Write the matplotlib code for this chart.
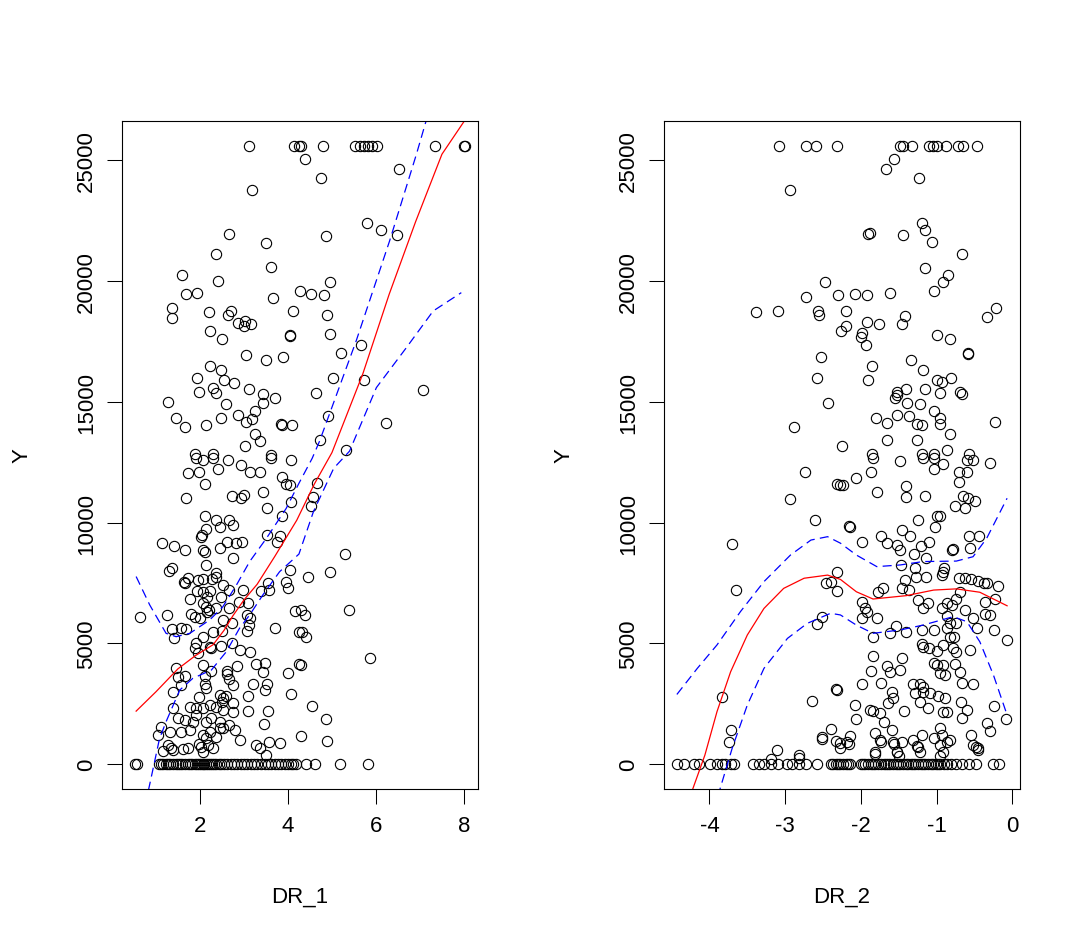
import matplotlib
matplotlib.use("Agg")
import matplotlib.pyplot as plt

plt.rcParams['font.family'] = ['Liberation Sans', 'DejaVu Sans']
plt.rcParams['lines.scale_dashes'] = False

# ---- DR_1 panel ----
dr1_top = [3.11, 4.13, 4.24, 4.30, 4.80, 5.53, 5.64, 5.72, 5.83, 5.92, 6.02, 7.35, 8.01, 8.02]
y_top = 25600

dr1_zero = [0.52, 0.57, 1.08, 1.12, 1.17, 1.22, 1.28, 1.33, 1.39, 1.45, 1.50, 1.55,
            1.60, 1.66, 1.72, 1.78, 1.83, 1.88, 1.93, 1.97, 2.02, 2.06, 2.10, 2.14,
            2.18, 2.22, 2.27, 2.32, 2.37, 2.43, 2.48, 2.55, 2.62, 2.70, 2.78, 2.85,
            2.93, 3.00, 3.08, 3.15, 3.22, 3.30, 3.38, 3.47, 3.55, 3.62, 3.70, 3.78,
            3.85, 3.93, 4.00, 4.06, 4.12, 4.18, 4.40, 4.62, 5.19, 5.82]

dr1_x = [4.39, 4.75, 6.52, 3.18, 5.79, 6.11, 6.48, 2.67, 4.86, 3.51,
         2.37, 3.61, 1.60, 2.42, 4.95, 1.68, 1.94, 3.67, 4.27, 4.52,
         4.83, 1.36, 1.36, 2.20, 2.71, 2.64, 2.86, 3.03, 3.00, 3.17,
         4.12, 4.88, 2.23, 2.51, 4.04, 4.05, 4.96, 5.67, 3.05, 3.51,
         3.89, 5.20, 2.22, 2.48, 1.93, 2.55, 2.77, 1.99, 2.30, 2.37,
         3.11, 3.43, 3.70, 5.02, 5.72, 4.64, 7.07, 1.27, 2.60, 3.43,
         3.24, 1.46, 1.66, 2.14, 2.48, 2.86, 3.05, 3.19, 3.85, 3.87,
         4.10, 4.92, 6.23, 3.24, 3.37, 3.02, 4.73, 5.33, 1.88, 2.30,
         3.61,
         1.90, 2.07, 2.30, 2.64, 2.94, 3.13, 3.36, 3.62, 4.08, 1.73,
         1.99, 2.41, 2.11, 1.69, 2.72, 2.94, 2.99, 3.43, 3.52, 3.87,
         3.96, 4.04, 4.08, 3.86, 2.11, 2.37, 2.46, 2.66, 2.75, 2.04,
         2.13, 2.02, 1.14, 1.42, 1.65, 2.08, 2.12, 2.45, 2.62, 2.83,
         2.96, 2.74, 3.52, 3.81, 3.75, 1.30, 1.36, 2.13, 2.37, 2.36,
         1.64, 1.67, 1.73, 1.95, 2.08, 2.27, 2.52, 2.66, 2.98, 3.39,
         3.58, 3.55, 3.96, 4.04, 3.99, 1.77, 1.93, 2.07, 2.17, 2.23,
         2.47, 1.80, 1.88, 2.07, 2.13, 2.16, 2.20, 2.01, 2.37, 2.52,
         2.67, 2.89, 3.09, 3.08, 3.13, 3.11, 3.07, 0.64, 1.26, 1.36,
         1.41, 1.56, 1.69, 2.07, 2.30, 2.49, 2.73, 2.73, 2.92, 3.14,
         3.70, 4.15, 4.25, 1.90, 1.88, 1.95, 2.23, 2.26, 2.47, 2.07,
         2.26, 2.12, 2.61, 2.61, 2.84, 3.28, 3.47, 3.43, 4.00, 4.25,
         1.45, 1.50, 1.65, 1.58, 1.39, 2.11, 2.14, 2.67, 2.75, 3.20,
         3.53, 3.47, 4.08, 1.99, 2.45, 2.52, 2.49, 2.60, 3.09, 1.77,
         1.90, 2.07, 2.22, 2.37, 2.52, 2.75, 2.75, 3.09, 3.55, 1.39,
         1.50, 1.65, 1.84, 1.92, 2.14, 2.26, 2.45, 2.52, 2.67, 2.79,
         3.45, 1.12, 1.05, 1.31, 1.58, 1.77, 2.07, 2.14, 2.22, 2.37,
         2.45, 2.90, 3.28, 3.57, 3.81, 1.27, 1.35, 1.39, 1.73, 2.03,
         2.18, 2.30, 3.36,
         4.66, 4.57, 4.52, 5.30, 4.96, 4.46, 5.39, 4.30, 4.39, 4.33,
         4.42, 5.87, 4.30, 4.55, 4.87, 4.30, 4.89,
         1.16, 1.61, 1.99, 2.07, 3.51]

dr1_y = [25070, 24280, 24650, 23760, 22400, 22100, 21910, 21960, 21850, 21590,
         21130, 20580, 20240, 19990, 19950, 19450, 19490, 19310, 19570, 19450,
         19440, 18900, 18480, 18710, 18760, 18580, 18280, 18350, 18140, 18210,
         18770, 18590, 17920, 17600, 17730, 17750, 17820, 17350, 16950, 16730,
         16840, 17010, 16470, 16320, 15970, 15890, 15790, 15420, 15560, 15350,
         15520, 15340, 15170, 15990, 15920, 15380, 15480, 14980, 14920, 14940,
         14620, 14340, 13960, 14030, 14330, 14450, 14170, 14280, 14100, 14050,
         14030, 14410, 14120, 13650, 13380, 13170, 13410, 12990, 12830, 12830,
         12800,
         12690, 12600, 12660, 12580, 12390, 12110, 12110, 12660, 12600, 12040,
         12110, 12220, 11590, 11010, 11120, 11040, 11150, 11260, 10620, 11910,
         11590, 11560, 10870, 10280, 10280, 10110, 9840, 10110, 9900, 9490,
         9740, 9420, 9150, 9050, 8870, 8880, 8800, 8940, 9190, 9150,
         9210, 8520, 9490, 9450, 9210, 8000, 8140, 8250, 7900, 7770,
         7530, 7490, 7700, 7630, 7670, 7670, 7420, 7210, 7210, 7170,
         7210, 7490, 7560, 8030, 7280, 6840, 7170, 7140, 6940, 7190,
         6940, 6220, 6110, 6660, 6520, 6320, 6390, 6040, 6480, 5970,
         6450, 6730, 6660, 6180, 6040, 5760, 5520, 6110, 6180, 5600,
         5240, 5630, 5600, 5280, 5490, 5520, 5830, 5010, 4730, 4660,
         5630, 6360, 5490, 5010, 4800, 4590, 4870, 4800, 4910, 4110,
         3860, 3670, 3860, 3720, 4070, 4140, 4180, 3830, 3760, 4140,
         3970, 3630, 3670, 3280, 3000, 3310, 3140, 3530, 3280, 3310,
         3310, 3070, 2890, 2800, 2870, 2730, 2560, 2840, 2840, 2380,
         2310, 2310, 2450, 2380, 2250, 2180, 2520, 2200, 2200, 2310,
         1900, 1830, 1760, 2040, 1760, 1900, 1760, 1490, 1620, 1420,
         1650, 1560, 1210, 1350, 1350, 1420, 1210, 1070, 1350, 1140,
         1490, 1000, 800, 910, 870, 800, 690, 590, 660, 730,
         800, 660, 660,
         11660, 11080, 10700, 8690, 7940, 7770, 6390, 6390, 6180, 5460,
         5280, 4380, 4110, 2420, 1860, 1170, 980,
         560, 630, 840, 500, 390]

fit1_x = [0.55, 1.0, 1.5, 1.9, 2.3, 2.55, 2.75, 3.0, 3.3, 3.7, 4.2, 4.6, 5.0, 5.7, 6.3, 6.9, 7.5, 8.0]
fit1_y = [2200, 3000, 3950, 4500, 4950, 5550, 6150, 6800, 7450, 8600, 10100, 11600, 12900,
          16150, 19450, 22450, 25250, 26600]
up1_x = [0.55, 0.86, 1.23, 1.46, 1.77, 2.22, 2.52, 2.83, 3.13, 3.51, 3.96, 4.25, 4.55, 4.72,
         5.55, 6.31, 6.92, 7.14]
up1_y = [7770, 6590, 5420, 5280, 5420, 5970, 6520, 7420, 8390, 9350, 10590, 11630, 12660,
         13380, 17520, 21660, 25250, 26630]
lo1_x = [0.55, 0.86, 1.08, 1.23, 1.54, 1.84, 2.26, 2.60, 2.90, 3.13, 3.43, 3.81, 4.25, 4.58,
         5.04, 5.40, 6.01, 6.69, 7.30, 7.94]
lo1_y = [-3400, -820, 1050, 1760, 3070, 3560, 3900, 4660, 5630, 6180, 7010, 7970, 8700,
         10460, 12250, 12960, 15590, 17240, 18760, 19520]

# ---- DR_2 panel ----
dr2_top = [-3.08, -2.73, -2.59, -2.31, -1.48, -1.45, -1.33, -1.10, -1.05, -1.00, -0.88,
           -0.72, -0.65, -0.47]

dr2_zero = [-4.43, -4.34, -4.21, -4.14, -3.99, -3.90, -3.83, -3.79, -3.72, -3.68,
            -3.43, -3.35, -3.28, -3.19, -3.10, -2.97, -2.91, -2.82, -2.73, -2.58,
            -2.40, -2.37, -2.33, -2.30, -2.27, -2.23, -2.20, -2.17, -2.14, -2.00,
            -1.97, -1.94, -1.90, -1.87, -1.84, -1.81, -1.77, -1.74, -1.70, -1.67,
            -1.64, -1.61, -1.57, -1.54, -1.51, -1.48, -1.44, -1.41, -1.38, -1.34,
            -1.31, -1.28, -1.24, -1.21, -1.18, -1.15, -1.11, -1.08, -1.05, -1.01,
            -0.98, -0.95, -0.90, -0.86, -0.81, -0.75, -0.66, -0.57, -0.48, -0.26,
            -0.18]

dr2_x = [-1.56, -1.67, -1.23, -2.93, -1.20, -1.15, -1.06, -1.90, -1.88, -1.45,
         -0.67, -1.15, -0.85, -0.92, -1.03, -2.48, -2.73, -2.30, -2.08, -1.92,
         -1.61, -3.39, -3.10, -2.57, -2.55, -2.20, -2.20, -2.26, -1.92, -1.76,
         -1.42, -1.46, -1.98, -2.00, -1.93, -1.00, -0.83, -0.21, -0.34, -0.59,
         -0.58, -2.53, -1.85, -1.34, -1.18, -2.58, -1.90, -0.99, -0.93, -0.81,
         -1.15, -1.40, -1.52, -1.55, -1.53, -1.39, -1.22, -0.95, -0.69, -0.66,
         -2.43, -2.88, -1.80, -1.65, -1.52, -1.36, -1.26, -1.20, -1.03, -0.96,
         -0.95, -0.82, -0.23, -2.25, -1.66, -1.26, -0.86, -1.85, -1.19, -1.03,
         -0.57,
         -2.74, -2.31, -2.27, -2.94, -2.60, -3.70, -2.32, -2.46, -2.40, -2.32,
         -3.65, -2.51, -2.58, -2.33, -2.31, -2.64, -3.83, -3.72, -3.74, -2.39,
         -2.51, -2.33, -2.27, -3.11, -2.82,
         -1.84, -1.48, -1.18, -1.03, -1.04, -0.91, -0.60, -0.52, -0.30, -0.71,
         -0.60, -0.71, -2.23, -2.06, -1.87, -1.79, -1.40, -1.40, -1.15, -0.65,
         -0.58, -0.49, -0.76, -0.63, -1.00, -0.96, -1.24, -1.02, -2.16, -2.15,
         -1.46, -1.35, -1.74, -1.66, -1.99, -1.52, -1.49, -1.21, -1.10, -1.30,
         -1.14, -0.57, -0.44, -0.56, -0.80, -0.78, -1.47, -1.29, -1.27, -1.14,
         -1.42, -0.90, -0.91, -0.93, -0.71, -0.63, -0.54, -0.45, -0.38, -0.34,
         -0.19, -1.46, -1.37, -1.71, -1.78, -0.69, -1.99, -1.95, -1.92, -1.99,
         -1.79, -1.25, -1.18, -1.11, -0.93, -0.87, -0.80, -0.74, -0.63, -0.52,
         -0.36, -0.36, -0.30, -0.23, -0.87, -0.82, -0.74, -0.47, -0.24, -0.07,
         -1.84, -1.62, -1.54, -1.40, -1.20, -1.04, -0.87, -0.82, -0.77, -1.20,
         -1.18, -1.10, -1.00, -0.91, -0.78, -0.74, -0.56, -1.84, -1.46, -1.66,
         -1.62, -1.48, -1.87, -1.73, -1.98, -1.04, -1.00, -0.91, -0.96, -0.89,
         -0.76, -0.69, -0.67, -0.52, -1.31, -1.22, -1.18, -1.29, -1.18, -1.09,
         -0.98, -0.89, -1.22, -1.11, -0.91, -0.87, -0.68, -0.60, -0.67, -0.24,
         -0.09, -1.59, -1.57, -1.64, -1.43, -1.84, -2.08, -2.06, -1.88, -1.75,
         -1.70, -1.59, -1.81, -1.75, -2.14, -2.19, -1.57, -1.46, -1.31, -1.25,
         -1.20, -1.04, -0.96, -0.93, -0.82, -0.96, -0.54, -0.52, -0.45, -0.33,
         -0.30, -1.81, -1.53, -1.22, -0.91,
         -3.19, -2.82, -1.82, -2.16, -2.27, -2.51, -1.52, -1.50, -1.26, -0.95,
         -0.48, -0.46, -0.86, -1.74, -1.56]

y_dr2 = [25070, 24650, 24280, 23760, 22420, 22100, 21600, 21930, 22000, 21910,
         21130, 20550, 20240, 19970, 19590, 19950, 19330, 19440, 19450, 19440,
         19510, 18710, 18750, 18750, 18610, 18770, 18140, 17930, 18310, 18220,
         18570, 18220, 17840, 17680, 17350, 17770, 17600, 18870, 18500, 17010,
         16970, 16840, 16470, 16730, 16300, 16000, 15920, 15890, 15810, 15990,
         15530, 15550, 15420, 15170, 15280, 14970, 14910, 15380, 15420, 15340,
         14940, 13960, 14330, 14110, 14450, 14410, 14070, 14030, 14610, 14340,
         14070, 13670, 14170, 13160, 13410, 13410, 12990, 12830, 12830, 12830,
         12830,
         12080, 11590, 11560, 10990, 10100, 9130, 7960, 7490, 7530, 7170,
         7200, 6110, 5810, 3100, 3070, 2620, 2770, 1420, 930, 1460,
         1140, 960, 660, 590, 380,
         12660, 12550, 12660, 12660, 12220, 12420, 12600, 12600, 12460, 12080,
         12110, 11670, 11560, 11860, 12080, 11260, 11530, 11080, 11120, 11120,
         11040, 10900, 10700, 10620, 10290, 10290, 10110, 9840, 9880, 9840,
         9700, 9460, 9460, 9150, 9210, 9080, 8870, 9050, 9210, 8690,
         8520, 9450, 9460, 8940, 8870, 8910, 8250, 8110, 7770, 7770,
         7630, 8110, 7940, 7830, 7720, 7700, 7670, 7590, 7490, 7490,
         7390, 7280, 7210, 7280, 7140, 7140, 6730, 6450, 6320, 6070,
         6040, 6800, 6450, 6660, 6450, 6660, 6590, 6840, 6390, 6070,
         6730, 6210, 6180, 6840, 6150, 5830, 5830, 5630, 5560, 5140,
         5280, 5420, 5740, 5460, 5560, 5560, 5630, 5280, 5280, 4960,
         4870, 4800, 4690, 4940, 4800, 4660, 4730, 4490, 4410, 4080,
         3830, 3900, 3860, 3350, 3310, 4180, 4110, 4110, 3760, 3690,
         4140, 3830, 3350, 3340, 3310, 3310, 3210, 2940, 2980, 2940,
         2840, 2760, 2560, 2310, 2180, 2150, 2590, 2250, 1900, 2420,
         1870, 3000, 2760, 2520, 2200, 2200, 2450, 1870, 2250, 2110,
         1760, 1420, 1280, 1000, 1180, 930, 930, 930, 1000, 730,
         1210, 1070, 1490, 1210, 1000, 800, 1210, 800, 660, 1690,
         1380, 520, 520, 520, 520,
         220, 250, 430, 840, 880, 1050, 500, 360, 770, 360,
         700, 610, 910, 910, 840]

fit2_x = [-4.43, -4.22, -4.06, -3.90, -3.72, -3.50, -3.28, -3.02, -2.75, -2.44, -2.27,
          -2.06, -1.84, -1.40, -1.04, -0.74, -0.43, -0.07]
fit2_y = [-3000, -1020, 380, 2180, 3830, 5350, 6450, 7280, 7700, 7830, 7650,
          7140, 6840, 6980, 7210, 7260, 7120, 6560]
up2_x = [-4.43, -4.16, -3.90, -3.59, -3.28, -2.93, -2.66, -2.44, -2.27, -2.06, -1.79,
         -1.48, -1.18, -0.74, -0.52, -0.34, -0.07]
up2_y = [2890, 3970, 4940, 6320, 7560, 8660, 9280, 9420, 9150, 8660, 8180,
         8250, 8390, 8410, 8590, 9350, 11010]
lo2_x = [-4.43, -3.86, -3.70, -3.50, -3.28, -2.97, -2.71, -2.40, -2.27, -2.06, -1.84,
         -1.48, -1.18, -0.78, -0.60, -0.43, -0.25, -0.07]
lo2_y = [-7000, -1020, 660, 2450, 3970, 5210, 5830, 6250, 6180, 5760, 5420,
         5560, 5760, 6110, 5900, 5070, 3690, 2040]

fig = plt.figure(figsize=(10.83, 9.45), dpi=100)
ax1 = fig.add_axes([0.1127, 0.1640, 0.3287, 0.7069])
ax2 = fig.add_axes([0.6131, 0.1640, 0.3287, 0.7069])

panels = [
    (ax1, dr1_top, dr1_zero, dr1_x, dr1_y, fit1_x, fit1_y, up1_x, up1_y, lo1_x, lo1_y,
     (0.23, 8.32), [2, 4, 6, 8], "DR_1"),
    (ax2, dr2_top, dr2_zero, dr2_x, y_dr2, fit2_x, fit2_y, up2_x, up2_y, lo2_x, lo2_y,
     (-4.60, 0.10), [-4, -3, -2, -1, 0], "DR_2"),
]

mk = dict(marker='o', ms=7.4, mfc='none', mec='black', mew=0.8, linestyle='none')
fs = 16

for ax, top, zero, px, py, fx, fy, ux, uy, lx, ly, xlim, xt, name in panels:
    ax.plot(px, py, **mk)
    ax.plot(top, [y_top] * len(top), **mk)
    ax.plot(zero, [0] * len(zero), **mk)
    ax.plot(fx, fy, color='#FF0000', lw=0.9)
    ax.plot(ux, uy, color='#0000FF', lw=0.9, dashes=(6.5, 3.8))
    ax.plot(lx, ly, color='#0000FF', lw=0.9, dashes=(6.5, 3.8))

    ax.set_xlim(*xlim)
    ax.set_ylim(-1024, 26624)
    ax.set_xticks(xt)
    ax.set_xticklabels([str(t) for t in xt])
    ax.set_yticks([0, 5000, 10000, 15000, 20000, 25000])
    ax.tick_params(direction='out', length=10.8, width=0.75, labelsize=fs,
                   colors='black')
    ax.tick_params(axis='x', pad=8)
    ax.tick_params(axis='y', pad=7, labelrotation=90)
    for lab in ax.get_yticklabels():
        lab.set_va('center')
    for sp in ax.spines.values():
        sp.set_linewidth(0.8)

    ax.set_xlabel(name, fontsize=fs)
    ax.xaxis.set_label_coords(0.5, -0.160)
    ax.xaxis.label.set_va('center')
    ax.set_ylabel("Y", fontsize=fs)
    ax.yaxis.set_label_coords(-0.281, 0.5)
    ax.yaxis.label.set_va('center')

fig.savefig("out.png", dpi=100)
